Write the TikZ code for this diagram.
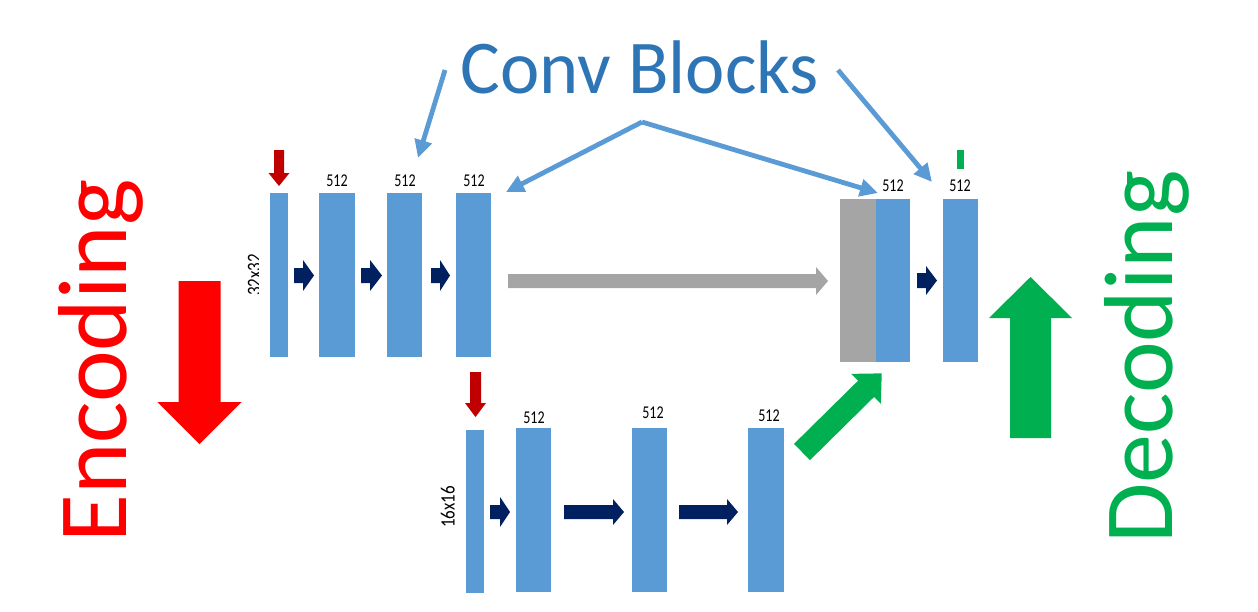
\documentclass[tikz,border=0pt]{standalone}
\usepackage{fontspec}
\setmainfont{Carlito}
\usetikzlibrary{arrows.meta}
\definecolor{blockblue}{HTML}{5B9BD5}
\definecolor{navyarrow}{HTML}{002060}
\definecolor{darkredarrow}{HTML}{C00000}
\definecolor{bigred}{HTML}{FF0000}
\definecolor{biggreen}{HTML}{00B050}
\definecolor{grayarrow}{HTML}{A5A5A5}
\definecolor{titleblue}{HTML}{2E75B6}
% horizontal block arrow: style, x tail, y centre, x head base, x tip, shaft half, head half
\newcommand\harr[7]{\fill[#1] (#2,#3-#6) -- (#4,#3-#6) -- (#4,#3-#7) -- (#5,#3) -- (#4,#3+#7) -- (#4,#3+#6) -- (#2,#3+#6) -- cycle;}
% vertical block arrow: style, x centre, y tail, y head base, y tip, shaft half, head half
\newcommand\varr[7]{\fill[#1] (#2-#6,#3) -- (#2-#6,#4) -- (#2-#7,#4) -- (#2,#5) -- (#2+#7,#4) -- (#2+#6,#4) -- (#2+#6,#3) -- cycle;}
\begin{document}
\begin{tikzpicture}[x=1pt,y=-1pt,
  blk/.style={fill=blockblue, inner sep=0, outer sep=0, minimum height=164},
  grayblk/.style={fill=grayarrow, inner sep=0, outer sep=0, minimum height=163},
  num/.style={font=\fontsize{18}{20}\selectfont, xscale=0.78, inner sep=0, text=black},
  dimlabel/.style={font=\fontsize{17}{19}\selectfont, xscale=1.2, rotate=90, inner sep=0, anchor=base, text=black},
  callout/.style={draw=blockblue, line width=4.8pt, -{Triangle[length=18pt,width=17pt]}},
  bigtext/.style={font=\fontsize{98}{100}\selectfont, rotate=90, anchor=base, inner sep=0}]
\useasboundingbox (0,0) rectangle (1258,611);

% encoder blocks (top row)
\node[blk, minimum width=18] (e1) at (279,275) {};
\node[blk, minimum width=36] (e2) at (337,275) {};
\node[blk, minimum width=35] (e3) at (404.5,275) {};
\node[blk, minimum width=35] (e4) at (473.5,275) {};
% decoder blocks
\node[grayblk, minimum width=36] (g1) at (858,280.5) {};
\node[blk, minimum width=34, minimum height=163] (d1) at (893,280.5) {};
\node[blk, minimum width=35, minimum height=163] (d2) at (960.5,280.5) {};
% bottom row
\node[blk, minimum width=18, minimum height=163] (b1) at (475,511.5) {};
\node[blk, minimum width=35] (b2) at (533.5,510) {};
\node[blk, minimum width=35] (b3) at (649.5,510) {};
\node[blk, minimum width=36] (b4) at (766,510) {};

% labels
\node[num] (l2) at (337,181) {512};
\node[num] (l3) at (405,181) {512};
\node[num] (l4) at (474,181) {512};
\node[num] (l5) at (893,185.5) {512};
\node[num] (l6) at (960,186) {512};
\node[num] (l7) at (534,418) {512};
\node[num] (l8) at (653,412.5) {512};
\node[num] (l9) at (769,415.5) {512};
\node[dimlabel] (s16) at (454.5,507) {16x16};
\begin{scope}
  \clip (240,240) rectangle (258.5,310);
  \node[dimlabel] (s32) at (261,275) {32x32};
\end{scope}

% navy arrows
\harr{navyarrow}{294}{275.5}{303}{314}{7.5}{15.5}
\harr{navyarrow}{361}{275.5}{370}{382}{7.5}{15.5}
\harr{navyarrow}{431}{275.5}{440}{450}{7.5}{15.5}
\harr{navyarrow}{917}{280.5}{926}{937}{7.5}{14.5}
\harr{navyarrow}{490}{512}{500}{510}{7}{15}
\harr{navyarrow}{564}{512}{613}{624}{7}{13}
\harr{navyarrow}{679}{512}{727}{738}{7}{13}

% skip connection
\harr{grayarrow}{508}{281}{816}{828}{7}{14}

% small red arrows
\varr{darkredarrow}{279}{150}{173}{186}{5}{10.5}
\varr{darkredarrow}{475.5}{372}{403}{417}{5.5}{10.5}

% green diagonal arrow
\begin{scope}[shift={(802,452)}, rotate=44.6]
  \harr{biggreen}{0}{0}{90}{112}{11.4}{21}
\end{scope}
% green mark
\fill[biggreen] (957,150) rectangle (964,169);

% big arrows
\varr{bigred}{199.5}{281}{402}{444}{21}{42}
\varr{biggreen}{1030.5}{438}{318}{277}{20.5}{41.5}

% texts
\node[bigtext, text=bigred] (enc) at (126,361) {Encoding};
\node[bigtext, text=biggreen] (dec) at (1172,357) {Decoding};
\node[font=\fontsize{76}{80}\selectfont, xscale=0.98, text=titleblue, anchor=base, inner sep=0] (conv) at (640,93) {Conv Blocks};

% callout arrows
\coordinate (c1) at (445,70);
\coordinate (apex) at (642,122);
\coordinate (c3) at (838,70);
\coordinate (t1) at (418,158);
\coordinate (t2) at (506,192);
\coordinate (t3) at (878,193);
\coordinate (t4) at (932,182);
\draw[callout] (c1) -- (t1);
\draw[callout] (apex) -- (t2);
\draw[callout] (apex) -- (t3);
\draw[callout] (c3) -- (t4);
\end{tikzpicture}
\end{document}
